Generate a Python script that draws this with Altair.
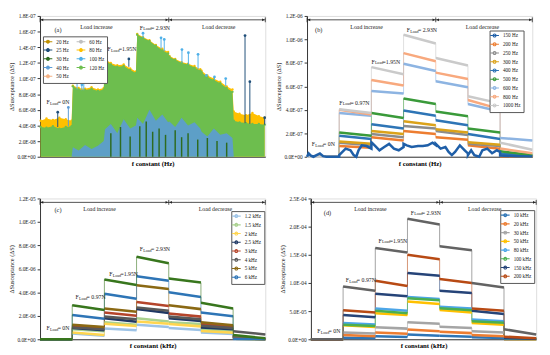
import altair as alt
import pandas as pd

FONT = "Liberation Serif"
W, H = 232, 145
LABEL_EXPR = "replace(replace(upper(format(datum.value, '.1e')), 'E-', 'E-0'), 'E+', 'E+0')"
SYM = "M-3,0L3,0M-1,0A1,1,0,1,1,1,0A1,1,0,1,1,-1,0Z"

# ---------------- panel (a) data (values in 1E-08 S) ----------------
A_NAMES = ["20 Hz", "25 Hz", "30 Hz", "40 Hz", "50 Hz", "60 Hz", "80 Hz", "100 Hz", "120 Hz"]
A_COLORS = ["#BF9000", "#1F4E79", "#2E6B1F", "#5B9BD5", "#F4B183", "#BFBFBF", "#FFC000", "#4FB0E8", "#6DBE4E"]
A_POS = [0.02, 0.2, 0.4, 0.6, 0.8, 0.98]
A_120 = [3.8, 3.7, 3.9, 3.6, 3.8, 3.9,
         9.0, 8.6, 8.5, 8.7, 8.4, 8.6,
         12.4, 11.8, 11.5, 11.6, 11.1, 10.7,
         15.6, 15.2, 14.8, 14.2, 13.6, 13.2,
         12.8, 12.4, 12.0, 11.8, 11.4, 11.0,
         10.8, 10.2, 9.8, 9.4, 8.8, 8.3,
         4.6, 4.4, 4.3, 4.2, 4.2, 4.1]
A_80 = [4.6, 4.9, 4.7, 5.0, 4.8, 4.6,
        9.1, 8.8, 8.7, 8.9, 8.6, 8.8,
        12.5, 12.0, 11.7, 11.8, 11.3, 10.9,
        15.7, 15.3, 14.9, 14.3, 13.8, 13.4,
        12.9, 12.5, 12.1, 11.9, 11.6, 11.2,
        11.0, 10.4, 10.0, 9.6, 9.0, 8.6,
        5.8, 5.5, 5.3, 5.6, 5.2, 5.0]
A_40 = [0.0, 0.0, 0.0, 0.0, 0.0, 0.0,
        1.2, 0.8, 1.5, 1.0, 1.4, 2.0,
        3.5, 4.2, 3.0, 4.8, 3.6, 4.0,
        5.0, 4.2, 6.0, 4.6, 5.4, 4.4,
        4.5, 3.8, 5.0, 4.0, 4.4, 3.6,
        3.2, 2.6, 3.6, 2.8, 3.0, 2.4,
        0.0, 0.0, 0.0, 0.0, 0.0, 0.0]
A_STREAK_X = [2.2, 2.5, 2.8, 3.1, 3.3, 3.5, 3.7, 3.9, 4.2, 4.4, 4.6, 4.9, 5.2, 5.5, 5.8]
A_STREAK_Y = [3.0, 3.8, 2.6, 3.9, 4.5, 3.2, 3.6, 2.8, 3.4, 2.5, 3.0, 2.2, 2.4, 2.0, 1.8]
A_SPIKE_S = ["25 Hz", "40 Hz", "100 Hz", "100 Hz", "100 Hz", "25 Hz", "100 Hz", "100 Hz", "100 Hz",
             "100 Hz", "100 Hz", "100 Hz", "100 Hz", "100 Hz", "100 Hz", "25 Hz", "25 Hz", "25 Hz"]
A_SPIKE_X = [0.55, 0.88, 1.15, 1.3, 1.36, 2.76, 3.2, 3.76, 3.86, 4.41, 4.61, 4.91, 5.17, 5.42, 5.77, 6.37, 6.52, 6.98]
A_SPIKE_Y = [5.7, 6.3, 10.0, 9.2, 9.6, 12.5, 15.8, 15.2, 15.0, 13.7, 13.3, 13.1, 10.4, 10.2, 10.0, 15.5, 9.6, 5.0]
A_SPIKE_BASE = [3.8, 3.9, 8.6, 8.5, 8.5, 11.5, 15.2, 13.8, 13.5, 12.0, 11.8, 11.2, 10.4, 9.8, 9.0, 4.3, 4.2, 4.1]
A_TICKS = [0, 2e-8, 4e-8, 6e-8, 8e-8, 1e-7, 1.2e-7, 1.4e-7, 1.6e-7, 1.8e-7]

# ---------------- panel (b) data (1E-07 S), [start, end] per load step ----------------
B_NAMES = ["150 Hz", "200 Hz", "250 Hz", "300 Hz", "400 Hz", "500 Hz", "600 Hz", "800 Hz", "1000 Hz"]
B_COLORS = ["#1F5FA8", "#ED7D31", "#8C8C8C", "#DBA21A", "#2E75B6", "#3A9A3A", "#8DB4E2", "#F8A97E", "#CACACA"]
B_VALUES = {
    "1000 Hz": [0, 0, 4.05, 3.72, 7.64, 7.03, 10.4, 9.66, 8.41, 7.78, 5.16, 4.55, 1.2, 0.6],
    "800 Hz": [0, 0, 4.0, 3.6, 6.54, 6.07, 8.83, 8.14, 7.17, 6.62, 4.83, 4.06, 0.7, 0.3],
    "600 Hz": [0, 0, 3.72, 3.5, 5.6, 5.4, 7.92, 7.3, 6.43, 5.93, 4.5, 3.86, 1.6, 1.38],
    "500 Hz": [0, 0, 2.07, 1.79, 3.72, 3.31, 4.97, 4.5, 3.86, 3.45, 2.4, 2.07, 0.47, 0.14],
    "400 Hz": [0, 0, 1.79, 1.52, 2.76, 2.4, 3.94, 3.5, 3.12, 2.68, 1.93, 1.52, 0.28, 0.08],
    "300 Hz": [0, 0, 1.3, 1.1, 2.2, 1.93, 3.03, 2.68, 2.34, 2.07, 1.24, 1.02, 0.1, 0.02],
    "250 Hz": [0, 0, 1.19, 0.97, 1.93, 1.66, 2.62, 2.4, 2.2, 1.85, 1.1, 0.91, 0.14, 0.05],
    "200 Hz": [0, 0, 0.91, 0.77, 1.66, 1.38, 2.2, 1.93, 1.66, 1.45, 0.97, 0.69, 0.05, 0.0],
}
B150_X = [0.0, 0.05, 0.12, 0.2, 0.4, 0.5, 0.6, 1.0,
          1.0, 1.1, 1.2, 1.35, 1.45, 1.53, 1.6, 1.7, 1.85, 2.0,
          2.0, 2.1, 2.25, 2.4, 2.55, 2.7, 2.85, 3.0,
          3.0, 3.1, 3.25, 3.45, 3.6, 3.75, 3.9, 4.0,
          4.0, 4.15, 4.3, 4.4, 4.5, 4.6, 4.75, 4.9, 5.0,
          5.0, 5.1, 5.2, 5.35, 5.45, 5.6, 5.75, 5.9, 6.0,
          6.0, 6.5, 7.0]
B150_Y = [0, 0.28, 0.1, 0.0, 0.28, 0.05, 0, 0,
          0.14, 0.41, 0.69, 0.55, 0.14, 0, 0.55, 0.97, 0.91, 0.69,
          1.24, 0.97, 0.55, 0.83, 1.1, 0.69, 0.55, 0.83,
          1.1, 0.97, 0.83, 0.91, 0.91, 0.97, 1.2, 1.0,
          1.1, 0.69, 0.83, 0.41, 0.14, 0.41, 0.97, 0.55, 0.28,
          0.14, 0.55, 0.14, 0.0, 0.55, 0.69, 0.3, 0.55, 0.41,
          0.1, 0.05, 0.03]
B_TICKS = [0, 2e-7, 4e-7, 6e-7, 8e-7, 1e-6, 1.2e-6]

# ---------------- panel (c) data (1E-06 S) ----------------
C_NAMES = ["1.2 kHz", "1.5 kHz", "2 kHz", "2.5 kHz", "3 kHz", "4 kHz", "5 kHz", "6 kHz"]
C_COLORS = ["#9DC3E6", "#A9D18E", "#FFD54F", "#1F3864", "#B5452B", "#595959", "#8B6914", "#2E75B6"]
C_VALUES = {
    "6 kHz": [0, 0, 2.07, 1.74, 3.89, 3.45, 5.38, 4.99, 4.0, 3.61, 2.29, 1.96, 0.05, 0.0],
    "5 kHz": [0, 0, 1.24, 1.05, 2.62, 2.34, 4.6, 4.28, 2.9, 2.57, 1.46, 1.19, 0.05, 0.0],
    "3 kHz": [0, 0, 1.1, 0.95, 2.29, 2.0, 3.17, 2.84, 2.2, 1.93, 1.3, 1.1, 0.1, 0.02],
    "4 kHz": [0, 0, 1.0, 0.85, 1.93, 1.7, 2.7, 2.43, 1.93, 1.7, 1.15, 0.95, 0.69, 0.41],
    "2.5 kHz": [0, 0, 0.97, 0.77, 1.8, 1.5, 2.57, 2.23, 1.8, 1.55, 1.0, 0.85, 0.15, 0.05],
    "1.5 kHz": [0, 0, 0.86, 0.69, 1.46, 1.24, 1.79, 1.52, 1.46, 1.3, 0.86, 0.72, 0.05, 0.0],
    "2 kHz": [0, 0, 0.58, 0.36, 1.32, 1.13, 1.52, 1.32, 1.3, 1.1, 0.7, 0.55, 0.12, 0.0],
    "1.2 kHz": [0, 0, 0.5, 0.3, 0.91, 0.77, 1.24, 1.05, 0.97, 0.8, 0.58, 0.45, 0.0, 0.0],
}
C_TOP = [0, 0, 2.9, 2.5, 5.1, 4.63, 7.03, 6.48, 5.19, 4.83, 3.12, 2.62, 0.36, 0.08]
C_TOP_COLOR = "#38761D"
C_TICKS = [0, 2e-6, 4e-6, 6e-6, 8e-6, 1e-5, 1.2e-5]

# ---------------- panel (d) data (1E-05 S) ----------------
D_NAMES = ["10 kHz", "20 kHz", "30 kHz", "50 kHz", "80 kHz", "100 kHz", "150 kHz", "200 kHz"]
D_COLORS = ["#2E75B6", "#ED7D31", "#A5A5A5", "#FFC000", "#4DA6E8", "#4CAF50", "#264478", "#B84A14"]
D_VALUES = {
    "200 kHz": [0, 0, 5.16, 4.76, 10.4, 9.46, 15.0, 14.2, 10.7, 10.0, 5.45, 5.05, 0.46, 0.17],
    "150 kHz": [0, 0, 4.3, 3.9, 8.08, 7.63, 11.75, 11.3, 8.6, 8.2, 5.05, 4.47, 0.2, 0.1],
    "80 kHz": [0, 0, 2.87, 2.64, 5.45, 5.05, 7.51, 7.17, 5.79, 5.45, 3.5, 3.21, 0.1, 0.03],
    "100 kHz": [0, 0, 2.58, 2.35, 5.05, 4.64, 7.28, 6.94, 5.5, 5.16, 3.21, 2.92, 0.2, 0.1],
    "50 kHz": [0, 0, 2.47, 2.18, 4.64, 4.3, 6.71, 6.25, 5.22, 4.76, 2.87, 2.58, 0.05, 0.0],
    "30 kHz": [0, 0, 1.2, 1.03, 2.12, 1.89, 3.04, 2.75, 2.24, 2.0, 1.43, 1.2, 0.15, 0.1],
    "20 kHz": [0, 0, 0.75, 0.52, 1.2, 0.97, 1.72, 1.43, 1.32, 1.09, 0.75, 0.52, 0.05, 0.0],
    "10 kHz": [0, 0, 0.29, 0.17, 0.52, 0.4, 0.86, 0.63, 0.63, 0.46, 0.35, 0.23, 0.0, 0.0],
}
D_TOP = [0, 0, 9.35, 8.6, 16.2, 15.4, 21.4, 20.4, 16.5, 15.8, 10.0, 9.2, 1.78, 0.86]
D_TOP_COLOR = "#636363"
D_TICKS = [0, 5e-5, 1e-4, 1.5e-4, 2e-4, 2.5e-4]

# ---------------- annotations ----------------
LOADS = ["= 0N", "= 0.97N", "=1.95N", "= 2.93N"]
A_ANN = ([0.2, 1.08, 2.1, 3.1], [6.95e-8, 1.04e-7, 1.38e-7, 1.65e-7], [0.45, 1.62e-7])
B_ANN = ([0.15, 1.0, 2.0, 3.1], [1.1e-7, 4.6e-7, 8.1e-7, 1.08e-6], [0.25, 1.08e-6])
C_ANN = ([0.2, 1.1, 2.15, 3.1], [0.97e-6, 3.6e-6, 5.55e-6, 7.67e-6], [0.45, 1.1e-5])
D_ANN = ([0.2, 1.08, 2.1, 3.1], [1.43e-5, 10.5e-5, 17.5e-5, 22.5e-5], [0.4, 22.5e-5])


def steps(values, name, factor):
    rows = []
    for i in range(7):
        rows.append({"x": i, "y": values[2 * i] * factor, "series": name, "key": f"{name}-{i}", "o": 2 * i})
        rows.append({"x": i + 1, "y": values[2 * i + 1] * factor, "series": name, "key": f"{name}-{i}", "o": 2 * i + 1})
    return rows


def xenc(unit):
    return alt.X("x:Q", scale=alt.Scale(domain=[0, 7], nice=False, zero=False),
                 axis=alt.Axis(title=f"f  constant ({unit})", labels=False, ticks=False, grid=False,
                               domainColor="#333", titleFontSize=7, titleFontWeight="bold",
                               titlePadding=3, titleFont=FONT))


def yenc(ymax, ticks):
    return alt.Y("y:Q", stack=None, scale=alt.Scale(domain=[0, ymax], nice=False),
                 axis=alt.Axis(title="ΔSusceptance (ΔS)", values=ticks, labelExpr=LABEL_EXPR, grid=False,
                               tickSize=3, labelFontSize=5.5, titleFontSize=6.5, titleFontWeight="normal",
                               titlePadding=2, domainColor="#333", tickColor="#333", labelFont=FONT,
                               titleFont=FONT, labelColor="#222", titleColor="#222"))


def cenc(names, colors, lx, ly, cols=1):
    return alt.Color("series:N", sort=names, scale=alt.Scale(domain=names, range=colors),
                     legend=alt.Legend(title=None, orient="none", legendX=lx, legendY=ly, columns=cols,
                                       symbolType=SYM, symbolSize=9, symbolStrokeWidth=1.1,
                                       labelFontSize=5.3, labelFont=FONT, rowPadding=0, columnPadding=4,
                                       padding=2.5, strokeColor="#555", fillColor="white", labelOffset=6,
                                       labelColor="#222"))


def decorations(X, Y, ann, label, mid_inc, mid_dec):
    xs, ys, lab = ann
    adf = pd.DataFrame({"x": xs, "y": ys, "rest": LOADS})
    f1 = alt.Chart(adf).mark_text(align="left", baseline="middle", fontSize=6, font=FONT, color="#222").encode(
        x=X, y=Y, text=alt.value("F"))
    f2 = alt.Chart(adf).mark_text(align="left", baseline="middle", fontSize=4.2, font=FONT, dx=3.6, dy=1.8,
                                  color="#222").encode(x=X, y=Y, text=alt.value("Load"))
    f3 = alt.Chart(adf).mark_text(align="left", baseline="middle", fontSize=6, font=FONT, dx=11.5,
                                  color="#222").encode(x=X, y=Y, text="rest:N")
    ldf = pd.DataFrame({"x": [lab[0]], "y": [lab[1]], "t": [label]})
    lt = alt.Chart(ldf).mark_text(align="left", baseline="middle", fontSize=6.5, font=FONT, color="#222").encode(
        x=X, y=Y, text="t:N")
    rdf = pd.DataFrame({"x": [0], "x2": [7]})
    rule = alt.Chart(rdf).mark_rule(color="#222", strokeWidth=0.8).encode(x=X, x2="x2:Q", y=alt.value(4))
    tdf = pd.DataFrame({"x": [0, 4, 7]})
    ticks = alt.Chart(tdf).mark_rule(color="#222", strokeWidth=0.8).encode(x=X, y=alt.value(1.5), y2=alt.value(6.5))
    hdf = pd.DataFrame({"x": [0.06, 3.94, 4.06, 6.94],
                        "shape": ["triangle-left", "triangle-right", "triangle-left", "triangle-right"]})
    heads = alt.Chart(hdf).mark_point(filled=True, size=9, color="#222", opacity=1).encode(
        x=X, y=alt.value(4), shape=alt.Shape("shape:N", scale=None))
    tx = pd.DataFrame({"x": [mid_inc, mid_dec], "t": ["Load increase", "Load decrease"]})
    ttext = alt.Chart(tx).mark_text(fontSize=6, font=FONT, color="#222").encode(x=X, y=alt.value(11), text="t:N")
    return [rule, ticks, heads, ttext, f1, f2, f3, lt]


def step_panel(names, colors, values, factor, ymax, ticks, unit, lx, ly, ann, label, mid_inc, mid_dec,
               extra=None, extra_color=None, extra_rows=None):
    rows = []
    for n in names:
        if n in values:
            rows += steps(values[n], n, factor)
    if extra_rows:
        rows += extra_rows
    df = pd.DataFrame(rows)
    X, Y = xenc(unit), yenc(ymax, ticks)
    C = cenc(names, colors, lx, ly)
    layers = []
    if extra is not None:
        edf = pd.DataFrame(steps(extra, "top", factor))
        layers.append(alt.Chart(edf).mark_line(strokeWidth=0.6, color=extra_color).encode(x=X, y=Y, order="o:Q"))
        layers.append(alt.Chart(edf).mark_line(strokeWidth=2.6, color=extra_color).encode(
            x=X, y=Y, detail="key:N", order="o:Q"))
    thin = alt.Chart(df).mark_line(strokeWidth=0.6).encode(x=X, y=Y, color=C, detail="series:N", order="o:Q")
    thick = alt.Chart(df).mark_line(strokeWidth=2.6).encode(x=X, y=Y, color=C, detail="key:N", order="o:Q")
    layers = [thin, thick] + layers + decorations(X, Y, ann, label, mid_inc, mid_dec)
    return alt.layer(*layers).properties(width=W, height=H)


# ---------- panel (a) ----------
def panel_a():
    X, Y = xenc("Hz"), yenc(1.8e-7, A_TICKS)
    C = cenc(A_NAMES, A_COLORS, 3, 21, cols=2)
    xs = [i + p for i in range(7) for p in A_POS]
    f = 1e-8
    g = pd.DataFrame({"x": xs, "y": [v * f for v in A_120], "series": "120 Hz"})
    yl = pd.DataFrame({"x": xs, "y": [v * f for v in A_80], "series": "80 Hz"})
    bl = pd.DataFrame({"x": xs, "y": [v * f for v in A_40], "series": "40 Hz"})
    st = pd.DataFrame({"x": A_STREAK_X, "y": [v * f for v in A_STREAK_Y], "series": "30 Hz"})
    sp = pd.DataFrame({"x": A_SPIKE_X, "y": [v * f for v in A_SPIKE_Y], "y0": [v * f for v in A_SPIKE_BASE],
                       "series": A_SPIKE_S})
    layers = [
        alt.Chart(yl).mark_area(opacity=1).encode(x=X, y=Y, color=C),
        alt.Chart(yl).mark_point(filled=True, size=6, opacity=1).encode(x=X, y=Y, color=C),
        alt.Chart(g).mark_area(opacity=1).encode(x=X, y=Y, color=C),
        alt.Chart(g).mark_point(filled=True, size=6, opacity=1).encode(x=X, y=Y, color=C),
        alt.Chart(bl).mark_area(opacity=0.9).encode(x=X, y=Y, color=C),
        alt.Chart(st).mark_rule(strokeWidth=1.5).encode(x=X, y=Y, y2=alt.datum(0), color=C),
        alt.Chart(sp).mark_rule(strokeWidth=1).encode(x=X, y=Y, y2="y0:Q", color=C),
        alt.Chart(sp).mark_point(filled=True, size=8, opacity=1).encode(x=X, y=Y, color=C),
    ]
    layers += decorations(X, Y, A_ANN, "(a)", 1.75, 5.55)
    return alt.layer(*layers).properties(width=W, height=H)


b150 = [{"x": x, "y": y * 1e-7, "series": "150 Hz", "key": "150 Hz", "o": i}
        for i, (x, y) in enumerate(zip(B150_X, B150_Y))]

pa = panel_a()
pb = step_panel(B_NAMES, B_COLORS, B_VALUES, 1e-7, 1.2e-6, B_TICKS, "Hz", 188, 15, B_ANN, "(b)", 1.85, 5.45,
                extra_rows=b150)
pc = step_panel(C_NAMES, C_COLORS, C_VALUES, 1e-6, 1.2e-5, C_TICKS, "kHz", 197, 13, C_ANN, "(c)", 1.85, 5.45,
                extra=C_TOP, extra_color=C_TOP_COLOR)
pd_ = step_panel(D_NAMES, D_COLORS, D_VALUES, 1e-5, 2.5e-4, D_TICKS, "kHz", 195, 12, D_ANN, "(d)", 1.85, 5.4,
                 extra=D_TOP, extra_color=D_TOP_COLOR)

top = alt.hconcat(pa, pb, spacing=8).resolve_scale(color="independent").resolve_legend(color="independent")
bottom = alt.hconcat(pc, pd_, spacing=8).resolve_scale(color="independent").resolve_legend(color="independent")
chart = (alt.vconcat(top, bottom, spacing=29)
         .resolve_scale(color="independent").resolve_legend(color="independent")
         .properties(padding=0)
         .configure_view(stroke="#888", strokeWidth=0.8)
         .configure(font=FONT))

chart.save("out.html", embed_options={"renderer": "svg", "actions": False})
